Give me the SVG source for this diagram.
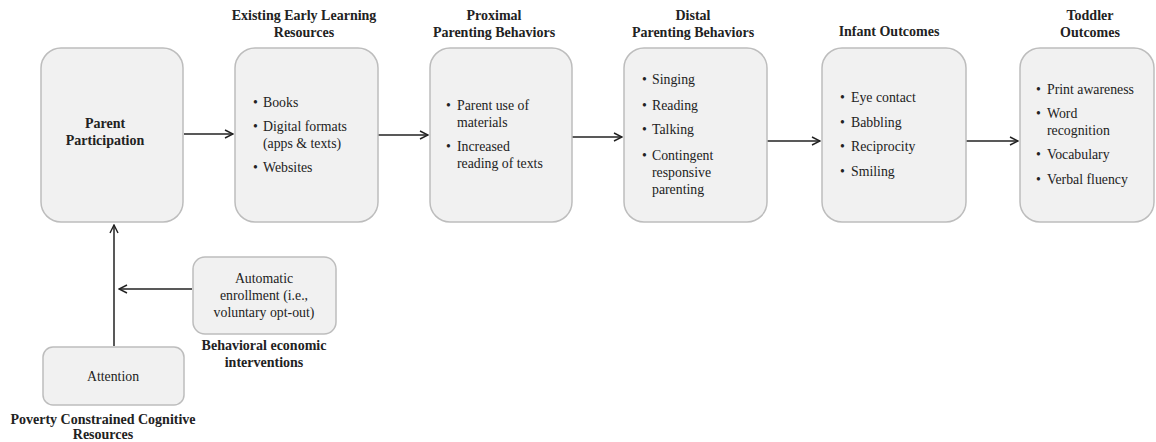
<svg xmlns="http://www.w3.org/2000/svg" width="1156" height="442" viewBox="0 0 1156 442">
<style>
.box{fill:#f1f1f1;stroke:#bdbdbd;stroke-width:1.5}
.t{font-family:"Liberation Serif","Times New Roman",serif;font-size:13.8px;fill:#222}
.b{font-family:"Liberation Serif","Times New Roman",serif;font-size:14px;font-weight:bold;fill:#222}
.c{text-anchor:middle}
.ln{stroke:#222;stroke-width:1.5;fill:none}
</style>
<defs>
<marker id="ah" viewBox="0 0 10 10" refX="9" refY="5" markerWidth="10" markerHeight="10" markerUnits="userSpaceOnUse" orient="auto">
<path d="M1,1 L9,5 L1,9" fill="none" stroke="#222" stroke-width="1.4"/>
</marker>
</defs>
<rect width="1156" height="442" fill="#fff"/>
<g id="connectors">
<line class="ln" x1="184" y1="134" x2="233" y2="134" marker-end="url(#ah)"/>
<line class="ln" x1="378" y1="135" x2="428" y2="135" marker-end="url(#ah)"/>
<line class="ln" x1="572" y1="137" x2="622" y2="137" marker-end="url(#ah)"/>
<line class="ln" x1="767" y1="141" x2="820" y2="141" marker-end="url(#ah)"/>
<line class="ln" x1="966" y1="141" x2="1018" y2="141" marker-end="url(#ah)"/>
<line class="ln" x1="114" y1="346" x2="114" y2="225" marker-end="url(#ah)"/>
<line class="ln" x1="192" y1="289" x2="119" y2="289" marker-end="url(#ah)"/>
</g>
<g id="parent">
<rect class="box" x="41" y="48" width="142" height="174" rx="20"/>
<text class="b c" x="105" y="128">Parent</text>
<text class="b c" x="105" y="145">Participation</text>
</g>
<g id="resources">
<text class="b c" x="304" y="20">Existing Early Learning</text>
<text class="b c" x="304" y="37">Resources</text>
<rect class="box" x="235" y="48" width="143" height="174" rx="20"/>
<text class="t" x="253" y="107">•</text><text class="t" x="263" y="107">Books</text>
<text class="t" x="253" y="131">•</text><text class="t" x="263" y="131">Digital formats</text>
<text class="t" x="263" y="148">(apps &amp; texts)</text>
<text class="t" x="253" y="172">•</text><text class="t" x="263" y="172">Websites</text>
</g>
<g id="proximal">
<text class="b c" x="494" y="20">Proximal</text>
<text class="b c" x="494" y="37">Parenting Behaviors</text>
<rect class="box" x="430" y="48" width="142" height="174" rx="20"/>
<text class="t" x="446" y="110">•</text><text class="t" x="457" y="110">Parent use of</text>
<text class="t" x="457" y="127">materials</text>
<text class="t" x="446" y="151">•</text><text class="t" x="457" y="151">Increased</text>
<text class="t" x="457" y="168">reading of texts</text>
</g>
<g id="distal">
<text class="b c" x="693" y="20">Distal</text>
<text class="b c" x="693" y="37">Parenting Behaviors</text>
<rect class="box" x="624" y="48" width="143" height="174" rx="20"/>
<text class="t" x="642" y="84">•</text><text class="t" x="652" y="84">Singing</text>
<text class="t" x="642" y="110">•</text><text class="t" x="652" y="110">Reading</text>
<text class="t" x="642" y="134">•</text><text class="t" x="652" y="134">Talking</text>
<text class="t" x="642" y="160">•</text><text class="t" x="652" y="160">Contingent</text>
<text class="t" x="652" y="177">responsive</text>
<text class="t" x="652" y="194">parenting</text>
</g>
<g id="infant">
<text class="b c" x="889" y="36">Infant Outcomes</text>
<rect class="box" x="822" y="48" width="144" height="174" rx="20"/>
<text class="t" x="840" y="102">•</text><text class="t" x="851" y="102">Eye contact</text>
<text class="t" x="840" y="127">•</text><text class="t" x="851" y="127">Babbling</text>
<text class="t" x="840" y="151">•</text><text class="t" x="851" y="151">Reciprocity</text>
<text class="t" x="840" y="176">•</text><text class="t" x="851" y="176">Smiling</text>
</g>
<g id="toddler">
<text class="b c" x="1090" y="20">Toddler</text>
<text class="b c" x="1090" y="37">Outcomes</text>
<rect class="box" x="1020" y="48" width="134" height="174" rx="20"/>
<text class="t" x="1036" y="94">•</text><text class="t" x="1047" y="94">Print awareness</text>
<text class="t" x="1036" y="118">•</text><text class="t" x="1047" y="118">Word</text>
<text class="t" x="1047" y="135">recognition</text>
<text class="t" x="1036" y="159">•</text><text class="t" x="1047" y="159">Vocabulary</text>
<text class="t" x="1036" y="184">•</text><text class="t" x="1047" y="184">Verbal fluency</text>
</g>
<g id="automatic">
<rect class="box" x="193" y="257" width="143" height="77" rx="12"/>
<text class="t c" x="264" y="283">Automatic</text>
<text class="t c" x="264" y="300">enrollment (i.e.,</text>
<text class="t c" x="264" y="317">voluntary opt-out)</text>
<text class="b c" x="264" y="350">Behavioral economic</text>
<text class="b c" x="264" y="367">interventions</text>
</g>
<g id="attention">
<rect class="box" x="43" y="347" width="141" height="58" rx="10"/>
<text class="t c" x="113" y="381">Attention</text>
<text class="b c" x="103" y="424">Poverty Constrained Cognitive</text>
<text class="b c" x="103" y="439">Resources</text>
</g>
</svg>
